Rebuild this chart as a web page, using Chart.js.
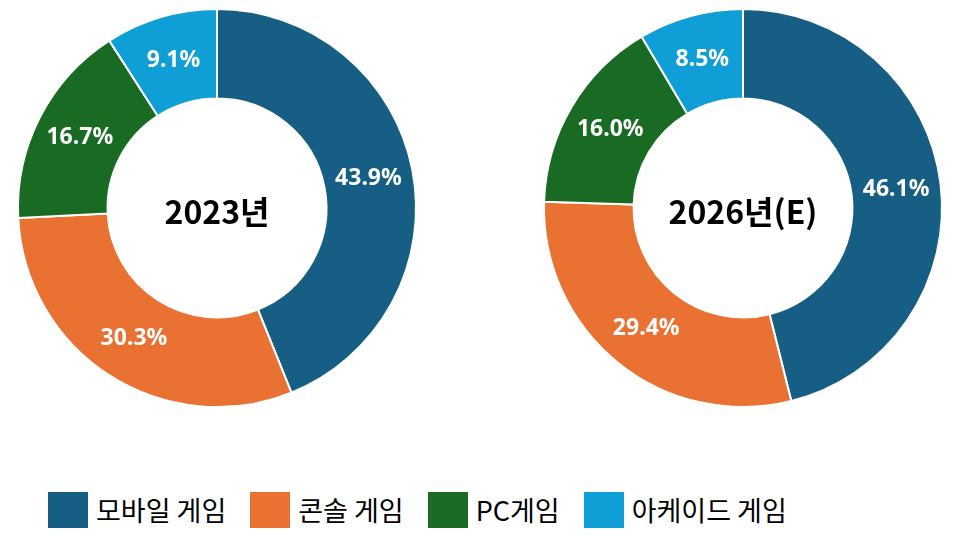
<!DOCTYPE html>
<html><head><meta charset="utf-8">
<script src="https://cdn.jsdelivr.net/npm/chart.js@4"></script>
<style>
body{margin:0;width:958px;height:538px;background:#fff;position:relative;font-family:"Noto Sans CJK KR","Noto Sans",sans-serif;overflow:hidden}
.c{position:absolute;top:0;width:420px;height:416px}
#leg{position:absolute;top:490px;left:48px;display:flex;align-items:center;font-size:27px;color:#000}
#leg span.b{display:inline-block;width:40px;height:36px;margin-right:8px}
#leg .i{display:flex;align-items:center;margin-right:24px}
</style></head><body>
<div class="c" style="left:7px"><canvas id="a"></canvas></div>
<div class="c" style="left:533px"><canvas id="b"></canvas></div>
<div id="leg"></div>
<script>
const categories=["모바일 게임","콘솔 게임","PC게임","아케이드 게임"];
const values2023=[43.9,30.3,16.7,9.1];
const values2026=[46.1,29.4,16.0,8.5];
const titles=["2023년","2026년(E)"];
const colors=["#175e84","#e97132","#196b24","#0f9ed5"];
const lab={id:"lab",afterDatasetsDraw(ch,a,o){const c=ch.ctx;const m=ch.getDatasetMeta(0);c.save();c.fillStyle="#fff";c.font="bold 23px 'Noto Sans','Open Sans',sans-serif";c.textAlign="center";c.textBaseline="middle";
m.data.forEach((e,i)=>{const p=e.tooltipPosition();c.fillText(ch.data.datasets[0].data[i].toFixed(1)+"%",p.x,p.y);});
c.fillStyle="#000";c.font="bold 32px 'Noto Sans CJK KR',sans-serif";const e=m.data[0];c.fillText(o.t,e.x,e.y+4);c.restore();}};
function mk(id,v,t){new Chart(document.getElementById(id),{type:"doughnut",data:{labels:categories,datasets:[{data:v,backgroundColor:colors,borderColor:"#fff",borderWidth:2}]},
options:{responsive:true,maintainAspectRatio:false,animation:false,cutout:"55%",layout:{padding:8},plugins:{legend:{display:false},tooltip:{enabled:false},lab:{t:t}}},plugins:[lab]});}
mk("a",values2023,titles[0]);mk("b",values2026,titles[1]);
const L=document.getElementById("leg");categories.forEach((n,i)=>{const d=document.createElement("div");d.className="i";d.innerHTML='<span class="b" style="background:'+colors[i]+'"></span>'+n;L.appendChild(d);});
</script></body></html>
